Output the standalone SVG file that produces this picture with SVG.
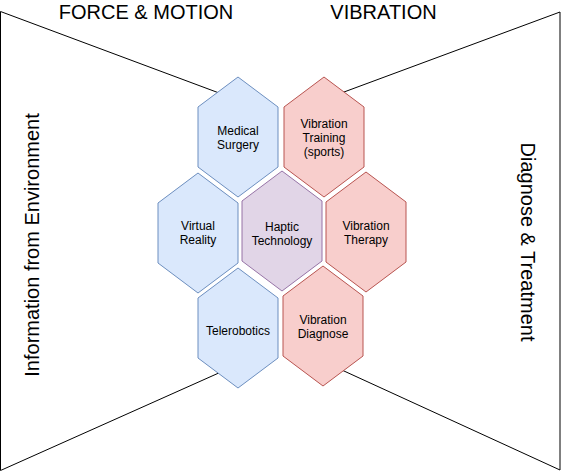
<svg xmlns="http://www.w3.org/2000/svg" width="562" height="473" viewBox="0 0 562 473">
<style>
.frame{fill:none;stroke:#000;stroke-width:1}
.hex{stroke-width:1}
.blue{fill:#dae8fc;stroke:#6c8ebf}
.red{fill:#f8cecc;stroke:#b85450}
.purple{fill:#e1d5e7;stroke:#9673a6}
.lbl{font-family:"Liberation Sans",Arial,sans-serif;font-size:12px;fill:#000;text-anchor:middle}
.big{font-family:"Liberation Sans",Arial,sans-serif;font-size:20px;fill:#000;text-anchor:middle}
</style>
<defs>
<polygon id="hx" points="40,0 80,30 80,90 40,120 0,90 0,30"/>
</defs>
<rect width="562" height="473" fill="#fff"/>
<g id="connectors">
<path class="frame" d="M240,100.8 L0.5,11.5 L0.5,470.5 L240,363.5"/>
<path class="frame" d="M320,100.9 L560,12 L560,470 L320,360"/>
</g>
<g id="titles">
<text class="big" x="146" y="19">FORCE &amp; MOTION</text>
<text class="big" x="383.5" y="19">VIBRATION</text>
<text class="big" transform="translate(39,245) rotate(-90)">Information from Environment</text>
<text class="big" transform="translate(521,242) rotate(90)">Diagnose &amp; Treatment</text>
</g>
<g id="medical-surgery">
<use href="#hx" class="hex blue" x="198" y="77"/>
<text class="lbl" x="238" y="135">Medical</text>
<text class="lbl" x="238" y="149">Surgery</text>
</g>
<g id="vibration-training">
<use href="#hx" class="hex red" x="284" y="77"/>
<text class="lbl" x="324" y="128">Vibration</text>
<text class="lbl" x="324" y="142">Training</text>
<text class="lbl" x="324" y="156">(sports)</text>
</g>
<g id="virtual-reality">
<use href="#hx" class="hex blue" x="158" y="173"/>
<text class="lbl" x="198" y="230">Virtual</text>
<text class="lbl" x="198" y="244">Reality</text>
</g>
<g id="haptic-technology">
<use href="#hx" class="hex purple" x="242" y="171"/>
<text class="lbl" x="282" y="231">Haptic</text>
<text class="lbl" x="282" y="245">Technology</text>
</g>
<g id="vibration-therapy">
<use href="#hx" class="hex red" x="326" y="172"/>
<text class="lbl" x="366" y="230">Vibration</text>
<text class="lbl" x="366" y="244">Therapy</text>
</g>
<g id="telerobotics">
<use href="#hx" class="hex blue" x="198" y="268"/>
<text class="lbl" x="238" y="335">Telerobotics</text>
</g>
<g id="vibration-diagnose">
<use href="#hx" class="hex red" x="283" y="266"/>
<text class="lbl" x="323" y="324">Vibration</text>
<text class="lbl" x="323" y="338">Diagnose</text>
</g>
</svg>
